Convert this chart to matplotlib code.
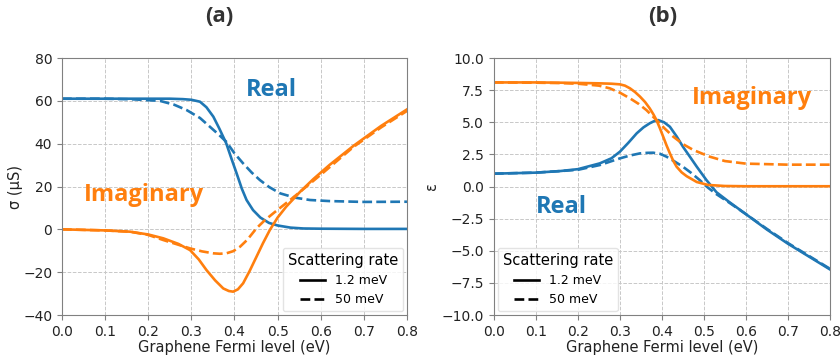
import matplotlib
matplotlib.use("Agg")
import matplotlib.pyplot as plt
from matplotlib.lines import Line2D

BLUE = "#1f77b4"
ORANGE = "#ff7f0e"

# (a) conductivity, sigma (uS)
ef_sr = [0.0, 0.1, 0.2, 0.25, 0.28, 0.3, 0.32, 0.335, 0.351, 0.365, 0.381, 0.393, 0.405, 0.417,
         0.428, 0.443, 0.46, 0.48, 0.5, 0.53, 0.56, 0.6, 0.7, 0.8]
sig_re_s = [61, 61, 61, 61, 60.8, 60.5, 59.6, 57, 52.6, 47, 40.1, 33, 26.1, 19,
            13.7, 9, 5.5, 3, 1.8, 0.8, 0.4, 0.3, 0.2, 0.2]
ef_dr = [0.0, 0.1, 0.165, 0.227, 0.26, 0.289, 0.32, 0.343, 0.362, 0.381, 0.4, 0.42, 0.44, 0.459,
         0.48, 0.506, 0.54, 0.575, 0.62, 0.7, 0.8]
sig_re_d = [61, 61, 60.7, 60.0, 58.2, 55.7, 52, 47.9, 44.5, 40.9, 35.5, 30.8, 26.5, 23,
            19.8, 16.8, 14.8, 13.7, 13.2, 12.8, 12.9]

ef_si = [0.0, 0.1, 0.158, 0.2, 0.235, 0.27, 0.297, 0.317, 0.335, 0.355, 0.374, 0.387, 0.397,
         0.408, 0.42, 0.435, 0.451, 0.466, 0.482, 0.5, 0.52, 0.552, 0.583, 0.62, 0.676, 0.74, 0.8]
sig_im_s = [0, -0.5, -1.1, -2.4, -4.2, -6.8, -9.7, -14, -19, -23.8, -27.6, -28.8, -29.1,
            -28, -25.2, -19.5, -12.8, -6.5, -0.3, 5.5, 10.6, 17.5, 23.5, 30, 39, 48.3, 56]
ef_di = [0.0, 0.1, 0.158, 0.2, 0.235, 0.27, 0.297, 0.325, 0.351, 0.366, 0.381, 0.397, 0.413,
         0.43, 0.451, 0.47, 0.49, 0.51, 0.529, 0.552, 0.6, 0.676, 0.74, 0.8]
sig_im_d = [0, -0.5, -1.1, -2.6, -5, -7.2, -8.9, -10.3, -11.2, -11.4, -11.2, -10.2, -8.1,
            -4.8, 0.5, 4.2, 7.5, 10.7, 13.7, 17.5, 25.5, 38.5, 47.6, 55.3]

# (b) permittivity
ef_er = [0.0, 0.1, 0.157, 0.2, 0.252, 0.28, 0.3, 0.32, 0.34, 0.356, 0.371, 0.381, 0.391, 0.405,
         0.419, 0.435, 0.45, 0.467, 0.483, 0.506, 0.53, 0.56, 0.6, 0.65, 0.7, 0.75, 0.8]
eps_re_s = [1.0, 1.08, 1.2, 1.35, 1.8, 2.2, 2.71, 3.4, 4.14, 4.6, 4.92, 5.08, 5.17, 5.0,
            4.65, 3.9, 3.1, 2.3, 1.54, 0.5, -0.45, -1.2, -2.15, -3.35, -4.45, -5.45, -6.45]
ef_erd = [0.0, 0.1, 0.157, 0.2, 0.252, 0.3, 0.325, 0.348, 0.365, 0.379, 0.395, 0.411, 0.43,
          0.45, 0.47, 0.49, 0.51, 0.53, 0.56, 0.6, 0.65, 0.7, 0.75, 0.8]
eps_re_d = [1.0, 1.08, 1.2, 1.3, 1.67, 2.19, 2.42, 2.58, 2.62, 2.63, 2.55, 2.32, 1.95,
            1.54, 1.05, 0.5, -0.1, -0.6, -1.25, -2.15, -3.3, -4.4, -5.4, -6.4]

ef_ei = [0.0, 0.1, 0.157, 0.2, 0.25, 0.28, 0.3, 0.312, 0.324, 0.336, 0.348, 0.36, 0.371, 0.38,
         0.387, 0.395, 0.403, 0.411, 0.419, 0.427, 0.435, 0.447, 0.459, 0.483, 0.51, 0.55, 0.6, 0.8]
eps_im_s = [8.1, 8.1, 8.08, 8.06, 8.03, 8.0, 7.95, 7.85, 7.64, 7.35, 6.99, 6.57, 6.08, 5.6,
            5.17, 4.55, 3.88, 3.2, 2.58, 2.0, 1.54, 1.1, 0.8, 0.35, 0.12, 0.04, 0.02, 0.02]
ef_eid = [0.0, 0.1, 0.157, 0.2, 0.25, 0.276, 0.3, 0.324, 0.345, 0.363, 0.387, 0.407, 0.427,
          0.45, 0.475, 0.514, 0.55, 0.6, 0.7, 0.8]
eps_im_d = [8.1, 8.08, 8.05, 8.0, 7.85, 7.64, 7.3, 6.86, 6.42, 5.95, 5.17, 4.5, 3.88,
            3.3, 2.84, 2.32, 1.98, 1.78, 1.7, 1.7]

xticks = [0.0, 0.1, 0.2, 0.3, 0.4, 0.5, 0.6, 0.7, 0.8]

plt.rcParams["font.family"] = "DejaVu Sans"
fig = plt.figure(figsize=(8.4, 3.61), dpi=100)
ax1 = fig.add_axes([0.0738, 0.1274, 0.4107, 0.7119])
ax2 = fig.add_axes([0.588, 0.1274, 0.4, 0.7119])


def style(ax):
    ax.grid(True, linestyle="--", color="#c8c8c8", linewidth=0.7)
    ax.set_axisbelow(True)
    for s in ax.spines.values():
        s.set_color("#808080")
    ax.tick_params(colors="#808080", labelcolor="#222222", labelsize=10)
    ax.set_xlim(0, 0.8)
    ax.set_xticks(xticks)
    ax.set_xlabel("Graphene Fermi level (eV)", fontsize=10.5, color="#222222", labelpad=1)


ann = dict(fontsize=17, fontweight="bold", family="Open Sans", ha="center", va="center")
lw = 1.9

ax1.plot(ef_sr, sig_re_s, color=BLUE, lw=lw)
ax1.plot(ef_dr, sig_re_d, color=BLUE, lw=lw, ls="--")
ax1.plot(ef_si, sig_im_s, color=ORANGE, lw=lw)
ax1.plot(ef_di, sig_im_d, color=ORANGE, lw=lw, ls="--")
style(ax1)
ax1.set_ylim(-40, 80)
ax1.set_yticks([-40, -20, 0, 20, 40, 60, 80])
ax1.set_ylabel("σ (μS)", fontsize=10.5, color="#222222", labelpad=0)
ax1.text(0.485, 65, "Real", color=BLUE, **ann)
ax1.text(0.191, 16, "Imaginary", color=ORANGE, **ann)

ax2.plot(ef_er, eps_re_s, color=BLUE, lw=lw)
ax2.plot(ef_erd, eps_re_d, color=BLUE, lw=lw, ls="--")
ax2.plot(ef_ei, eps_im_s, color=ORANGE, lw=lw)
ax2.plot(ef_eid, eps_im_d, color=ORANGE, lw=lw, ls="--")
style(ax2)
ax2.set_ylim(-10, 10)
ax2.set_yticks([-10, -7.5, -5, -2.5, 0, 2.5, 5, 7.5, 10])
ax2.set_ylabel("ε", fontsize=10.5, color="#222222", labelpad=2)
ax2.text(0.161, -1.57, "Real", color=BLUE, **ann)
ax2.text(0.614, 6.86, "Imaginary", color=ORANGE, **ann)

fig.text(219 / 840, 1 - 17 / 361, "(a)", fontsize=16, fontweight="bold", family="Open Sans",
         ha="center", va="center", color="#333333")
fig.text(663 / 840, 1 - 17 / 361, "(b)", fontsize=16, fontweight="bold", family="Open Sans",
         ha="center", va="center", color="#333333")

handles = [Line2D([], [], color="black", lw=lw), Line2D([], [], color="black", lw=lw, ls="--")]
labels = ["1.2 meV", "50 meV"]
for ax, loc in ((ax1, "lower right"), (ax2, "lower left")):
    leg = ax.legend(handles, labels, title="Scattering rate", loc=loc, fontsize=9,
                    title_fontsize=10.5, framealpha=0.8, borderaxespad=0.3)
    leg.get_frame().set_edgecolor("#dddddd")

fig.savefig("out.png", dpi=100)
